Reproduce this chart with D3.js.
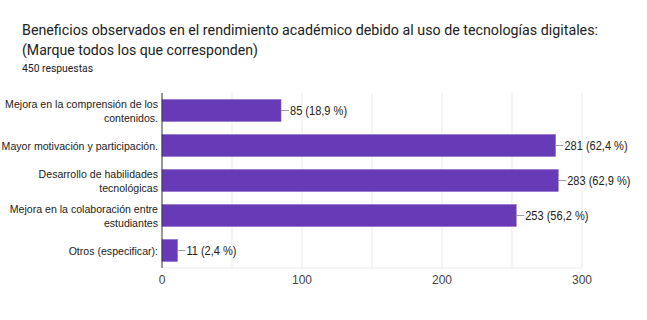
<!DOCTYPE html>
<html>
<head>
<meta charset="utf-8">
<script src="https://cdnjs.cloudflare.com/ajax/libs/d3/7.8.5/d3.min.js"></script>
<style>
	body{ margin:0; background:#fff; }
	text{ font-family: Arial, "Liberation Sans", sans-serif; }
	.ttl{ font-family: Roboto, Arial, sans-serif; }
</style>
</head>
<body>
<svg id="chart" width="647" height="320"></svg>
<script>
	var categories = [
		["Mejora en la comprensión de los", "contenidos."],
		["Mayor motivación y participación."],
		["Desarrollo de habilidades", "tecnológicas"],
		["Mejora en la colaboración entre", "estudiantes"],
		["Otros (especificar):"]
	];
	var counts = [85, 281, 283, 253, 11];
	var percents = ["18,9", "62,4", "62,9", "56,2", "2,4"];
	var xTicks = [0, 100, 200, 300];
	var gridValues = [50, 100, 150, 200, 250, 300];

	var SQUEEZE = 0.92; // the reference text is a bit narrow
	function squeeze(sel){
		sel.each(function(){
			var w = this.getComputedTextLength();
			d3.select(this).attr("textLength", w * SQUEEZE).attr("lengthAdjust", "spacingAndGlyphs");
		});
	}

	var svg = d3.select("#chart");
	var margin = {top: 93, left: 162, right: 65, bottom: 52};
	var W = 647, H = 320;
	var innerW = W - margin.left - margin.right,
		innerH = H - margin.top - margin.bottom;

	// titles
	svg.append("text").attr("class", "ttl").attr("x", 22).attr("y", 35)
		.attr("textLength", 576).attr("lengthAdjust", "spacingAndGlyphs")
		.style("font-size", "15px").style("fill", "#202124")
		.text("Beneficios observados en el rendimiento académico debido al uso de tecnologías digitales:");
	svg.append("text").attr("class", "ttl").attr("x", 22).attr("y", 55)
		.attr("textLength", 236).attr("lengthAdjust", "spacingAndGlyphs")
		.style("font-size", "15px").style("fill", "#202124")
		.text("(Marque todos los que corresponden)");
	svg.append("text").attr("class", "ttl").attr("x", 22).attr("y", 72)
		.attr("textLength", 71).attr("lengthAdjust", "spacingAndGlyphs")
		.style("font-size", "10.5px").style("fill", "#202124")
		.text("450 respuestas");

	var g = svg.append("g").attr("transform", "translate(" + margin.left + "," + margin.top + ")");

	var x = d3.scaleLinear().domain([0, 300]).range([0, innerW]);
	var y = d3.scaleBand().domain(d3.range(categories.length)).range([0, innerH]).paddingInner(0.38).paddingOuter(0.19);

	// grid
	g.selectAll(".grid").data(gridValues).enter().append("line")
		.attr("x1", function(d){ return x(d); }).attr("x2", function(d){ return x(d); })
		.attr("y1", 0).attr("y2", innerH)
		.attr("stroke", "#ebebeb").attr("stroke-width", 1);
	g.append("line").attr("x1", 0).attr("x2", innerW).attr("y1", innerH).attr("y2", innerH)
		.attr("stroke", "#ebebeb");

	// bars
	g.selectAll(".bar").data(counts).enter().append("rect")
		.attr("x", 0)
		.attr("y", function(d, i){ return y(i); })
		.attr("width", function(d){ return x(d); })
		.attr("height", y.bandwidth())
		.attr("fill", "#673ab7")
		.attr("stroke", "#7e57c2").attr("stroke-width", 0.6);

	// value labels with leader
	g.selectAll(".lead").data(counts).enter().append("line")
		.attr("x1", function(d){ return x(d); }).attr("x2", function(d){ return x(d) + 8; })
		.attr("y1", function(d, i){ return y(i) + y.bandwidth()/2; })
		.attr("y2", function(d, i){ return y(i) + y.bandwidth()/2; })
		.attr("stroke", "#9e9e9e").attr("stroke-width", 1);
	g.selectAll(".val").data(counts).enter().append("text")
		.attr("x", function(d){ return x(d) + 9; })
		.attr("y", function(d, i){ return y(i) + y.bandwidth()/2; })
		.attr("dy", "0.35em")
		.style("font-size", "12px").style("fill", "#222")
		.text(function(d, i){ return d + " (" + percents[i] + " %)"; })
		.call(squeeze);

	// axis line
	g.append("line").attr("x1", 0).attr("x2", 0).attr("y1", 0).attr("y2", innerH)
		.attr("stroke", "#333").attr("stroke-width", 1);

	// category labels
	categories.forEach(function(lines, i){
		var cy = y(i) + y.bandwidth()/2;
		lines.forEach(function(l, k){
			g.append("text").attr("x", -4).attr("text-anchor", "end")
				.attr("y", cy + (k - (lines.length - 1)/2) * 14)
				.attr("dy", "0.35em")
				.style("font-size", "11.5px").style("fill", "#222")
				.text(l)
				.call(squeeze);
		});
	});

	// x ticks
	g.selectAll(".tick").data(xTicks).enter().append("text")
		.attr("x", function(d){ return x(d); })
		.attr("y", innerH + 16)
		.attr("text-anchor", "middle")
		.style("font-size", "12px").style("fill", "#444")
		.text(function(d){ return d; });
</script>
</body>
</html>
